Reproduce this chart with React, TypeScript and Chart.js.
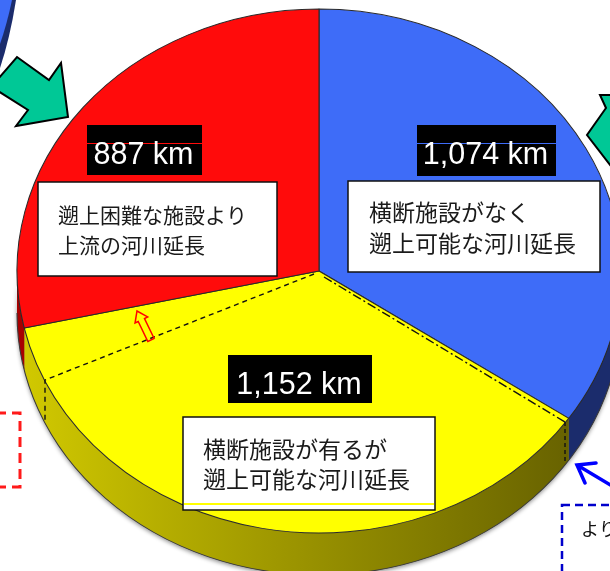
import React, { useEffect, useRef } from "react";
import { Chart, registerables } from "chart.js";

Chart.register(...registerables);

// ---- data ----
const categories = [
  "横断施設がなく遡上可能な河川延長",
  "横断施設が有るが遡上可能な河川延長",
  "遡上困難な施設より上流の河川延長",
];
const lengthsKm = [1074, 1152, 887];
const descLine1 = ["横断施設がなく", "横断施設が有るが", "遡上困難な施設より"];
const descLine2 = ["遡上可能な河川延長", "遡上可能な河川延長", "上流の河川延長"];
const unitLabel = "km";

// ---- styles ----
const topColors = ["#3e6cf8", "#ffff00", "#ff0b0b"];
const sideColors = ["#1b2c6c", "yellowGradient", "#a80000"];

// ellipse of the pie top surface (pixels)
const VIEW = { cx: 319, cy: 271, rx: 302, ry: 262, depth: 42 };

// label layout: [boxX, boxY, boxW, boxH]
const valueBoxes = [
  [417, 125, 139, 51],
  [228, 355, 144, 48],
  [87, 125, 115, 50],
];
const descBoxes = [
  [348, 181, 252, 91],
  [183, 417, 252, 93],
  [38, 182, 239, 94],
];
const descText = [
  { x: 369, y1: 212, y2: 243, size: 23 },
  { x: 203, y1: 449, y2: 479, size: 23 },
  { x: 58, y1: 215, y2: 245, size: 21 },
];

const JP = "'Noto Sans CJK JP', 'Noto Sans', sans-serif";
const NUM = "'Liberation Sans', Arial, sans-serif";

function fmt(v: number) {
  return v.toLocaleString("en-US") + " " + unitLabel;
}

const pie3d = {
  id: "pie3d",
  beforeDatasetsDraw(chart: any) {
    const ctx: CanvasRenderingContext2D = chart.ctx;
    const meta = chart.getDatasetMeta(0);
    const first: any = meta.data[0];
    const x = first.x, y = first.y, R = first.outerRadius;
    const sx = VIEW.rx / R, sy = VIEW.ry / R;
    ctx.save();
    ctx.translate(VIEW.cx, VIEW.cy);
    ctx.scale(sx, sy);
    ctx.translate(-x, -y);
    const D = VIEW.depth / sy;

    // shadow of the whole front side
    ctx.save();
    ctx.shadowColor = "rgba(0,0,0,0.45)";
    ctx.shadowBlur = 4;
    ctx.shadowOffsetY = 2;
    ctx.beginPath();
    ctx.arc(x, y, R, 0, Math.PI);
    ctx.lineTo(x - R, y + D);
    ctx.arc(x, y + D, R, Math.PI, 0, true);
    ctx.closePath();
    ctx.fillStyle = "#777";
    ctx.fill();
    ctx.restore();

    meta.data.forEach((el: any, i: number) => {
      const s = Math.max(el.startAngle, 0);
      const e = Math.min(el.endAngle, Math.PI);
      if (e <= s) return;
      ctx.beginPath();
      ctx.arc(x, y, R, s, e);
      ctx.lineTo(x + R * Math.cos(e), y + D + R * Math.sin(e));
      ctx.arc(x, y + D, R, e, s, true);
      ctx.closePath();
      if (sideColors[i] === "yellowGradient") {
        const g = ctx.createLinearGradient(x - R, 0, x + R, 0);
        g.addColorStop(0, "#d2ca00");
        g.addColorStop(0.45, "#9c9500");
        g.addColorStop(1, "#5e5900");
        ctx.fillStyle = g;
      } else {
        ctx.fillStyle = sideColors[i];
      }
      ctx.fill();
    });
    // bottom edge line
    ctx.beginPath();
    ctx.arc(x, y + D, R, 0, Math.PI);
    ctx.lineWidth = 1;
    ctx.strokeStyle = "#3a3a3a";
    ctx.stroke();
    // transform stays for dataset drawing
  },
  afterDatasetsDraw(chart: any) {
    chart.ctx.restore();
  },
  afterDraw(chart: any) {
    const ctx: CanvasRenderingContext2D = chart.ctx;
    ctx.save();

    // dashed sub-division lines on yellow slice
    ctx.strokeStyle = "#111";
    ctx.lineWidth = 1.4;
    ctx.setLineDash([5, 4]);
    ctx.beginPath();
    ctx.moveTo(314, 274);
    ctx.lineTo(45, 380);
    ctx.lineTo(45, 421);
    ctx.stroke();
    ctx.setLineDash([9, 3, 2, 3]);
    ctx.beginPath();
    ctx.moveTo(324, 277);
    ctx.lineTo(565, 422);
    ctx.stroke();
    ctx.setLineDash([4, 3]);
    ctx.beginPath();
    ctx.moveTo(565, 422);
    ctx.lineTo(565, 463);
    ctx.stroke();
    ctx.setLineDash([]);

    // small hollow red arrow
    {
      const T = [151, 340], P = [137, 311];
      const dx = P[0] - T[0], dy = P[1] - T[1];
      const L = Math.hypot(dx, dy);
      const u = [dx / L, dy / L];
      const n = [-u[1], u[0]];
      const H = [P[0] - u[0] * 10, P[1] - u[1] * 10];
      const pts = [
        [T[0] + n[0] * 3.5, T[1] + n[1] * 3.5],
        [H[0] + n[0] * 3.5, H[1] + n[1] * 3.5],
        [H[0] + n[0] * 7, H[1] + n[1] * 7],
        P,
        [H[0] - n[0] * 7, H[1] - n[1] * 7],
        [H[0] - n[0] * 3.5, H[1] - n[1] * 3.5],
        [T[0] - n[0] * 3.5, T[1] - n[1] * 3.5],
      ];
      ctx.beginPath();
      pts.forEach((p, k) => (k ? ctx.lineTo(p[0], p[1]) : ctx.moveTo(p[0], p[1])));
      ctx.closePath();
      ctx.strokeStyle = "#ff0000";
      ctx.lineWidth = 1.5;
      ctx.stroke();
    }

    // value boxes and description boxes
    lengthsKm.forEach((v, i) => {
      const [bx, by, bw, bh] = valueBoxes[i];
      ctx.fillStyle = "#000";
      ctx.fillRect(bx, by, bw, bh);
      if (i !== 1) {
        ctx.fillStyle = topColors[i];
        ctx.fillRect(bx, 143, bw, 1);
      }
      ctx.fillStyle = "#fff";
      ctx.font = `30.5px ${NUM}`;
      ctx.textAlign = "center";
      ctx.textBaseline = "alphabetic";
      ctx.fillText(fmt(v), bx + bw / 2 - 1, by + 38.5);

      const [dx, dy, dw, dh] = descBoxes[i];
      ctx.fillStyle = "#fff";
      ctx.fillRect(dx, dy, dw, dh);
      ctx.strokeStyle = "#111";
      ctx.lineWidth = 1.5;
      ctx.strokeRect(dx, dy, dw, dh);
      const t = descText[i];
      ctx.fillStyle = "#1a1a1a";
      ctx.font = `${t.size}px ${JP}`;
      ctx.textAlign = "left";
      ctx.textBaseline = "middle";
      ctx.fillText(descLine1[i], t.x, t.y1);
      ctx.fillText(descLine2[i], t.x, t.y2);
    });
    // yellow line inside yellow description box
    ctx.fillStyle = "#ffff00";
    ctx.fillRect(184, 503, 250, 2);

    // top-left neighbouring pie edge
    ctx.fillStyle = "#1b2c6c";
    ctx.beginPath();
    ctx.moveTo(0, 0);
    ctx.lineTo(16, 0);
    ctx.quadraticCurveTo(10, 38, 0, 68);
    ctx.closePath();
    ctx.fill();
    ctx.fillStyle = "#3e6cf8";
    ctx.beginPath();
    ctx.moveTo(0, 0);
    ctx.lineTo(12, 0);
    ctx.quadraticCurveTo(7, 24, 0, 44);
    ctx.closePath();
    ctx.fill();

    // green arrows
    ctx.fillStyle = "#00c896";
    ctx.strokeStyle = "#000";
    ctx.lineWidth = 2;
    const arrowL = [[-2, 79], [17, 57], [49, 80], [61, 63], [68, 117], [16, 126], [28, 110], [-2, 91]];
    ctx.beginPath();
    arrowL.forEach((p, k) => (k ? ctx.lineTo(p[0], p[1]) : ctx.moveTo(p[0], p[1])));
    ctx.closePath();
    ctx.fill();
    ctx.stroke();
    const arrowR = [[600, 95], [614, 95], [614, 170], [587, 135], [606, 108]];
    ctx.beginPath();
    arrowR.forEach((p, k) => (k ? ctx.lineTo(p[0], p[1]) : ctx.moveTo(p[0], p[1])));
    ctx.closePath();
    ctx.fill();
    ctx.stroke();

    // red dashed box (left)
    ctx.strokeStyle = "#ff1a1a";
    ctx.lineWidth = 3;
    ctx.setLineDash([10, 6]);
    ctx.strokeRect(-20, 413, 40, 74);

    // blue dashed box (bottom right)
    ctx.strokeStyle = "#0000cc";
    ctx.lineWidth = 2.5;
    ctx.setLineDash([8, 5]);
    ctx.strokeRect(562, 505, 80, 90);
    ctx.setLineDash([]);
    ctx.fillStyle = "#111";
    ctx.font = `18px ${JP}`;
    ctx.textAlign = "left";
    ctx.textBaseline = "middle";
    ctx.fillText("より", 581, 529);

    // blue arrow
    ctx.strokeStyle = "#0000ff";
    ctx.lineWidth = 3.5;
    ctx.lineCap = "round";
    ctx.beginPath();
    ctx.moveTo(612, 486);
    ctx.lineTo(577, 465);
    ctx.moveTo(596, 463);
    ctx.lineTo(577, 465);
    ctx.lineTo(585, 483);
    ctx.stroke();

    ctx.restore();
  },
};

export default function App() {
  const ref = useRef<HTMLCanvasElement | null>(null);
  useEffect(() => {
    if (!ref.current) return;
    const chart = new Chart(ref.current, {
      type: "pie",
      data: {
        labels: categories,
        datasets: [
          {
            data: lengthsKm,
            backgroundColor: topColors,
            borderColor: "#2a2a2a",
            borderWidth: 1,
          },
        ],
      },
      options: {
        responsive: false,
        animation: false,
        devicePixelRatio: 1,
        events: [],
        layout: { padding: 0 },
        plugins: {
          legend: { display: false },
          tooltip: { enabled: false },
        },
      },
      plugins: [pie3d],
    });
    return () => chart.destroy();
  }, []);
  return (
    <div style={{ position: "absolute", left: 0, top: 0, width: 610, height: 571, background: "#fff" }}>
      <canvas ref={ref} width={610} height={571} style={{ display: "block" }} />
    </div>
  );
}
